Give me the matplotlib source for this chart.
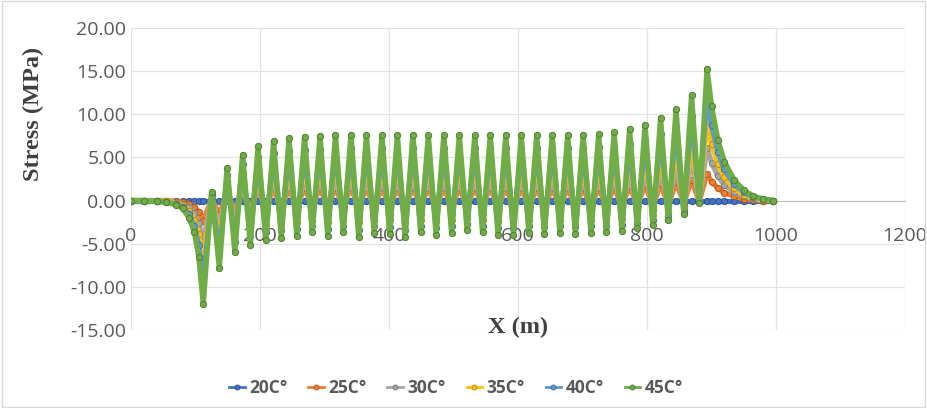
import matplotlib.pyplot as plt
from matplotlib.patches import Rectangle

plt.rcParams['axes.unicode_minus'] = False

# Distance along the structure (m) at each read point
x = [0, 20, 40, 55, 70, 80, 90, 98, 105, 112,
     125, 137, 149, 161, 173, 185, 197, 209, 221, 233, 245, 257, 269, 281,
     293, 305, 317, 329, 341, 353, 365, 377, 389, 401, 413, 425, 437, 449,
     461, 473, 485, 497, 509, 521, 533, 545, 557, 569, 581, 593, 605, 617,
     629, 641, 653, 665, 677, 689, 701, 713, 725, 737, 749, 761, 773, 785,
     797, 809, 821, 833, 845, 857, 869, 881, 893,
     900, 910, 920, 935, 950, 965, 980, 995]

# Stress (MPa) per temperature
s20 = [0.0] * len(x)

s25 = [0, 0, 0.0, 0.0, -0.1, -0.2, -0.4, -0.7, -1.3, -2.4,
       0.2, -1.6, 0.8, -1.2, 1.1, -1.0, 1.3, -0.9, 1.4, -0.9, 1.4, -0.8, 1.5, -0.7,
       1.5, -0.8, 1.5, -0.7, 1.5, -0.8, 1.5, -0.8, 1.5, -0.8, 1.5, -0.8, 1.5, -0.7,
       1.5, -0.8, 1.5, -0.8, 1.5, -0.7, 1.5, -0.7, 1.5, -0.8, 1.5, -0.8, 1.5, -0.8,
       1.5, -0.8, 1.5, -0.8, 1.5, -0.8, 1.5, -0.8, 1.5, -0.7, 1.6, -0.7, 1.7, -0.6,
       1.8, -0.6, 1.9, -0.5, 2.1, -0.3, 2.4, -0.1, 3.1,
       2.2, 1.4, 0.9, 0.5, 0.2, 0.1, 0.0, 0.0]

s30 = [0, 0, 0.0, -0.1, -0.2, -0.4, -0.8, -1.4, -2.6, -4.8,
       0.4, -3.1, 1.5, -2.4, 2.1, -2.0, 2.5, -1.8, 2.8, -1.7, 2.9, -1.6, 3.0, -1.5,
       3.0, -1.6, 3.0, -1.5, 3.0, -1.7, 3.0, -1.5, 3.0, -1.6, 3.0, -1.7, 3.0, -1.5,
       3.0, -1.6, 3.0, -1.5, 3.0, -1.4, 3.0, -1.5, 3.0, -1.6, 3.0, -1.6, 3.0, -1.5,
       3.0, -1.6, 3.0, -1.5, 3.0, -1.6, 3.0, -1.5, 3.1, -1.5, 3.2, -1.4, 3.3, -1.3,
       3.5, -1.1, 3.8, -0.9, 4.2, -0.6, 4.9, -0.1, 6.1,
       4.4, 2.8, 1.8, 1.0, 0.5, 0.2, 0.1, 0.0]

s35 = [0, 0, -0.1, -0.1, -0.3, -0.5, -1.2, -2.2, -3.9, -7.2,
       0.6, -4.7, 2.3, -3.6, 3.2, -3.1, 3.8, -2.8, 4.1, -2.6, 4.3, -2.5, 4.4, -2.2,
       4.5, -2.5, 4.6, -2.2, 4.6, -2.5, 4.6, -2.3, 4.6, -2.3, 4.6, -2.5, 4.6, -2.2,
       4.6, -2.4, 4.6, -2.3, 4.6, -2.0, 4.6, -2.2, 4.6, -2.4, 4.6, -2.4, 4.6, -2.3,
       4.6, -2.3, 4.6, -2.3, 4.6, -2.3, 4.6, -2.3, 4.6, -2.2, 4.7, -2.1, 5.0, -1.9,
       5.3, -1.7, 5.8, -1.4, 6.4, -0.9, 7.3, -0.2, 9.2,
       6.6, 4.2, 2.7, 1.4, 0.7, 0.3, 0.1, 0.0]

s40 = [0, 0, -0.1, -0.2, -0.4, -0.7, -1.6, -2.9, -5.2, -9.6,
       0.8, -6.2, 3.0, -4.8, 4.2, -4.1, 5.0, -3.7, 5.5, -3.4, 5.8, -3.3, 5.9, -3.0,
       6.0, -3.3, 6.1, -3.0, 6.1, -3.4, 6.1, -3.0, 6.1, -3.1, 6.1, -3.4, 6.1, -3.0,
       6.1, -3.2, 6.1, -3.0, 6.1, -2.7, 6.1, -3.0, 6.1, -3.2, 6.1, -3.2, 6.1, -3.0,
       6.1, -3.1, 6.1, -3.0, 6.1, -3.1, 6.1, -3.0, 6.2, -3.0, 6.3, -2.8, 6.6, -2.6,
       7.0, -2.2, 7.7, -1.8, 8.5, -1.2, 9.8, -0.2, 12.2,
       8.8, 5.6, 3.6, 1.9, 1.0, 0.4, 0.2, 0.0]

s45 = [0, 0, -0.1, -0.2, -0.5, -0.9, -2.0, -3.6, -6.5, -12.0,
       1.0, -7.8, 3.8, -6.0, 5.3, -5.1, 6.3, -4.6, 6.9, -4.3, 7.2, -4.1, 7.4, -3.7,
       7.5, -4.1, 7.6, -3.7, 7.6, -4.2, 7.6, -3.8, 7.6, -3.9, 7.6, -4.2, 7.6, -3.7,
       7.6, -4.0, 7.6, -3.8, 7.6, -3.4, 7.6, -3.7, 7.6, -4.0, 7.6, -4.0, 7.6, -3.8,
       7.6, -3.9, 7.6, -3.8, 7.6, -3.9, 7.6, -3.8, 7.7, -3.7, 7.9, -3.5, 8.3, -3.2,
       8.8, -2.8, 9.6, -2.3, 10.6, -1.5, 12.2, -0.3, 15.3,
       11.0, 7.0, 4.5, 2.4, 1.2, 0.5, 0.2, 0.0]

labels = ['20C°', '25C°', '30C°', '35C°', '40C°', '45C°']
colors = ['#4472C4', '#ED7D31', '#A5A5A5', '#FFC000', '#5B9BD5', '#70AD47']
edges = ['#2F528F', '#AE5A21', '#7B7B7B', '#BF9000', '#41719C', '#507E32']
xticks = [0, 200, 400, 600, 800, 1000, 1200]
yticks = [-15, -10, -5, 0, 5, 10, 15, 20]

fig = plt.figure(figsize=(9.27, 4.08), dpi=100)
fig.patches.append(Rectangle((0.002, 0.003), 0.996, 0.994, transform=fig.transFigure,
                             fill=False, edgecolor='#D9D9D9', linewidth=1))
ax = fig.add_axes([0.1413, 0.1912, 0.835, 0.7402])

for ys, lab, c, ec in zip([s20, s25, s30, s35, s40, s45], labels, colors, edges):
    ax.plot(x, ys, color=c, lw=3.8, marker='o', ms=4.5, mfc=c, mec=ec,
            mew=0.7, label=lab, zorder=3, solid_joinstyle='round')

ax.set_xlim(0, 1200)
ax.set_ylim(-15, 20)
ax.set_xticks(xticks)
ax.set_yticks(yticks)
ax.set_yticklabels([f'{v:.2f}' for v in yticks])
ax.grid(True, color='#E3E3E3', linewidth=0.9, zorder=0)
ax.set_axisbelow(True)

for side in ['top', 'right', 'left']:
    ax.spines[side].set_visible(False)
ax.spines['bottom'].set_position(('data', 0))
ax.spines['bottom'].set_color('#BFBFBF')
ax.spines['bottom'].set_zorder(1)
ax.tick_params(length=0, labelsize=14, labelcolor='#595959')
ax.tick_params(axis='x', pad=19)
for t in ax.get_xticklabels() + ax.get_yticklabels():
    t.set_fontfamily('Open Sans')

fig.text(0.036, 0.72, 'Stress (MPa)', rotation=90, ha='center', va='center',
         fontsize=17.5, fontweight='bold', family='Liberation Serif', color='#404040')
fig.text(0.559, 0.198, 'X (m)', ha='center', va='center',
         fontsize=17.5, fontweight='bold', family='Liberation Serif', color='#404040')

leg = fig.legend(loc='center', bbox_to_anchor=(0.492, 0.048), ncol=6, frameon=False,
                 handlelength=0.9, handletextpad=0.25, columnspacing=1.2,
                 prop={'family': 'Open Sans', 'weight': 'bold', 'size': 12.5})
for h in leg.get_lines():
    h.set_linewidth(2)
    h.set_markersize(3.5)
for t in leg.get_texts():
    t.set_color('#595959')

plt.savefig('out.png')
